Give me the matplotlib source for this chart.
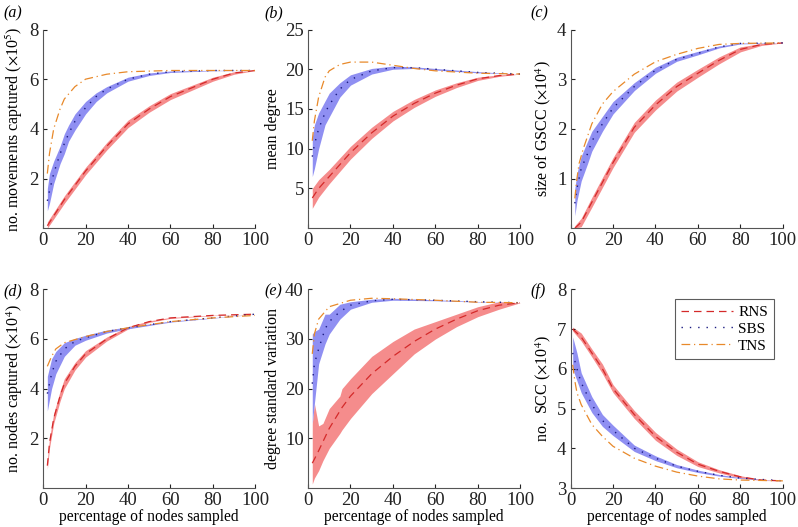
import numpy as np
import matplotlib
matplotlib.use('Agg')
import matplotlib.pyplot as plt

plt.rcParams['font.family'] = ['Liberation Serif', 'DejaVu Serif']
plt.rcParams['mathtext.fontset'] = 'stix'

# ---- (a) movements captured (x10^5)
a_rx = [2, 10, 20, 30, 40, 50, 60, 70, 80, 90, 100]
a_r = [0.1, 1.15, 2.3, 3.3, 4.2, 4.8, 5.3, 5.65, 6.0, 6.25, 6.35]
a_rlo = [0.0, 1.0, 2.15, 3.15, 4.05, 4.67, 5.18, 5.55, 5.92, 6.2, 6.35]
a_rhi = [0.25, 1.3, 2.45, 3.45, 4.35, 4.93, 5.42, 5.75, 6.08, 6.3, 6.35]
a_sx = [2, 3, 5, 8, 10, 12, 15, 20, 25, 30, 40, 50, 60, 80, 100]
a_s = [1.1, 1.5, 2.2, 3.0, 3.4, 3.8, 4.3, 4.85, 5.3, 5.6, 6.0, 6.2, 6.3, 6.35, 6.35]
a_slo = [0.7, 1.0, 1.8, 2.6, 3.0, 3.5, 3.95, 4.6, 5.1, 5.45, 5.92, 6.15, 6.27, 6.34, 6.35]
a_shi = [1.6, 2.2, 2.7, 3.3, 3.8, 4.15, 4.6, 5.1, 5.45, 5.7, 6.08, 6.25, 6.33, 6.36, 6.35]
a_tx = [2, 3, 5, 8, 10, 15, 20, 30, 40, 60, 100]
a_t = [2.2, 3.0, 4.0, 4.8, 5.2, 5.7, 6.0, 6.2, 6.3, 6.35, 6.35]

# ---- (b) mean degree
b_rx = [2, 5, 10, 20, 30, 40, 50, 60, 70, 80, 90, 100]
b_r = [3.8, 5.0, 6.5, 9.5, 12.0, 14.1, 15.7, 17.0, 18.0, 18.8, 19.2, 19.4]
b_rlo = [2.5, 3.9, 5.6, 8.7, 11.3, 13.5, 15.2, 16.6, 17.7, 18.6, 19.1, 19.4]
b_rhi = [5.0, 6.1, 7.4, 10.3, 12.7, 14.7, 16.2, 17.4, 18.3, 19.0, 19.3, 19.4]
b_sx = [2, 3, 5, 8, 10, 15, 20, 30, 40, 50, 60, 80, 100]
b_s = [9.0, 10.5, 12.5, 14.5, 15.5, 17.5, 18.7, 19.8, 20.2, 20.2, 20.0, 19.6, 19.4]
b_slo = [6.5, 7.5, 10.0, 13.0, 14.0, 16.5, 18.0, 19.4, 20.0, 20.1, 19.9, 19.55, 19.4]
b_shi = [11.5, 13.0, 14.5, 16.0, 17.0, 18.3, 19.3, 20.1, 20.4, 20.3, 20.1, 19.7, 19.4]
b_tx = [2, 3, 5, 8, 10, 15, 20, 30, 40, 50, 60, 80, 100]
b_t = [11.0, 13.5, 16.5, 19.0, 19.8, 20.6, 20.9, 20.9, 20.5, 20.1, 19.8, 19.5, 19.4]

# ---- (c) size of GSCC (x10^4)
c_rx = [2, 5, 10, 15, 20, 30, 40, 50, 60, 70, 80, 90, 100]
c_r = [0.0, 0.12, 0.52, 0.92, 1.32, 2.03, 2.48, 2.85, 3.12, 3.38, 3.6, 3.7, 3.73]
c_rlo = [0.0, 0.03, 0.42, 0.82, 1.22, 1.93, 2.38, 2.76, 3.04, 3.31, 3.55, 3.68, 3.73]
c_rhi = [0.05, 0.2, 0.62, 1.02, 1.42, 2.13, 2.58, 2.94, 3.2, 3.45, 3.65, 3.72, 3.73]
c_sx = [2, 3, 5, 8, 10, 15, 20, 30, 40, 50, 60, 70, 80, 100]
c_s = [0.5, 0.8, 1.2, 1.5, 1.75, 2.1, 2.42, 2.85, 3.18, 3.4, 3.52, 3.65, 3.72, 3.73]
c_slo = [0.25, 0.55, 0.95, 1.3, 1.55, 1.95, 2.3, 2.77, 3.12, 3.36, 3.49, 3.63, 3.71, 3.73]
c_shi = [0.8, 1.1, 1.45, 1.75, 1.95, 2.25, 2.55, 2.93, 3.24, 3.44, 3.56, 3.67, 3.73, 3.73]
c_tx = [2, 3, 4, 6, 10, 15, 20, 30, 40, 50, 60, 70, 80, 100]
c_t = [0.6, 1.0, 1.3, 1.6, 2.1, 2.5, 2.75, 3.1, 3.35, 3.5, 3.62, 3.7, 3.72, 3.73]

# ---- (d) nodes captured (x10^4)
d_rx = [2, 3, 5, 8, 10, 15, 20, 30, 40, 50, 60, 80, 100]
d_r = [0.9, 1.8, 2.8, 3.7, 4.2, 4.9, 5.4, 6.0, 6.45, 6.7, 6.85, 6.95, 7.0]
d_rlo = [0.75, 1.6, 2.6, 3.5, 4.0, 4.75, 5.27, 5.92, 6.4, 6.67, 6.83, 6.94, 7.0]
d_rhi = [1.1, 2.0, 3.0, 3.9, 4.4, 5.05, 5.53, 6.08, 6.5, 6.73, 6.87, 6.96, 7.0]
d_sx = [2, 4, 6, 10, 15, 20, 30, 40, 60, 80, 100]
d_s = [3.8, 4.6, 5.1, 5.6, 5.9, 6.05, 6.3, 6.45, 6.7, 6.85, 7.0]
d_slo = [3.1, 4.0, 4.6, 5.3, 5.75, 5.95, 6.24, 6.41, 6.68, 6.84, 7.0]
d_shi = [4.5, 5.2, 5.5, 5.85, 6.02, 6.15, 6.36, 6.49, 6.72, 6.86, 7.0]
d_tx = [2, 4, 6, 10, 20, 30, 40, 60, 80, 100]
d_t = [4.9, 5.3, 5.6, 5.85, 6.1, 6.3, 6.45, 6.7, 6.85, 6.95]

# ---- (e) degree standard variation
e_rx = [2, 3, 5, 7, 10, 15, 16, 20, 30, 40, 50, 60, 70, 80, 90, 100]
e_r = [5.0, 5.8, 7.5, 9.3, 12.0, 15.5, 16.2, 18.5, 23.0, 26.5, 29.5, 32.0, 34.0, 35.7, 36.8, 37.3]
e_rlo = [0.8, 2.0, 3.5, 5.5, 8.0, 11.0, 11.7, 14.0, 19.0, 23.0, 27.0, 30.0, 32.5, 34.5, 36.0, 37.3]
e_rhi = [13.0, 17.0, 12.5, 13.0, 16.0, 18.5, 20.0, 22.0, 26.5, 29.5, 32.0, 33.5, 35.0, 36.5, 37.5, 37.3]
e_sx = [2, 3, 5, 8, 10, 15, 20, 30, 40, 60, 80, 100]
e_s = [21.0, 25.0, 28.0, 32.0, 33.5, 35.5, 36.8, 37.7, 38.0, 37.8, 37.5, 37.3]
e_slo = [13.0, 17.0, 25.0, 29.0, 31.0, 34.0, 36.0, 37.4, 37.8, 37.7, 37.45, 37.3]
e_shi = [31.0, 31.5, 32.0, 35.0, 35.0, 37.0, 37.5, 38.0, 38.2, 37.9, 37.55, 37.3]
e_tx = [2, 3, 5, 10, 20, 30, 40, 60, 80, 100]
e_t = [27.0, 31.0, 34.0, 36.5, 37.8, 38.2, 38.1, 37.8, 37.4, 37.3]

# ---- (f) number of SCC (x10^4)
f_rx = [1, 5, 10, 15, 20, 30, 40, 50, 60, 70, 80, 90, 100]
f_r = [7.0, 6.8, 6.4, 6.0, 5.5, 4.85, 4.3, 3.9, 3.6, 3.42, 3.28, 3.2, 3.18]
f_rlo = [6.95, 6.7, 6.3, 5.88, 5.4, 4.75, 4.2, 3.82, 3.54, 3.38, 3.25, 3.19, 3.18]
f_rhi = [7.05, 6.9, 6.5, 6.12, 5.6, 4.95, 4.4, 3.98, 3.66, 3.46, 3.31, 3.21, 3.18]
f_sx = [1, 3, 5, 10, 15, 20, 30, 40, 50, 60, 70, 80, 100]
f_s = [6.4, 6.0, 5.65, 5.1, 4.7, 4.45, 4.0, 3.75, 3.55, 3.42, 3.32, 3.25, 3.18]
f_slo = [6.0, 5.7, 5.4, 4.9, 4.55, 4.32, 3.92, 3.69, 3.51, 3.39, 3.3, 3.24, 3.18]
f_shi = [6.8, 6.4, 5.9, 5.3, 4.85, 4.58, 4.08, 3.81, 3.59, 3.45, 3.34, 3.26, 3.18]
f_tx = [1, 2, 3, 5, 10, 15, 20, 30, 40, 50, 60, 70, 80, 100]
f_t = [6.1, 5.7, 5.4, 5.1, 4.6, 4.3, 4.05, 3.75, 3.55, 3.4, 3.3, 3.23, 3.2, 3.18]

panels = [
    ('(a)', r'no. movements captured ($\times$10$^5$)', (0, 8), [2, 4, 6, 8],
     (a_rx, a_r, a_rlo, a_rhi), (a_sx, a_s, a_slo, a_shi), (a_tx, a_t)),
    ('(b)', 'mean degree', (0, 25), [5, 10, 15, 20, 25],
     (b_rx, b_r, b_rlo, b_rhi), (b_sx, b_s, b_slo, b_shi), (b_tx, b_t)),
    ('(c)', r'size of GSCC ($\times$10$^4$)', (0, 4), [1, 2, 3, 4],
     (c_rx, c_r, c_rlo, c_rhi), (c_sx, c_s, c_slo, c_shi), (c_tx, c_t)),
    ('(d)', r'no. nodes captured ($\times$10$^4$)', (0, 8), [2, 4, 6, 8],
     (d_rx, d_r, d_rlo, d_rhi), (d_sx, d_s, d_slo, d_shi), (d_tx, d_t)),
    ('(e)', 'degree standard variation', (0, 40), [10, 20, 30, 40],
     (e_rx, e_r, e_rlo, e_rhi), (e_sx, e_s, e_slo, e_shi), (e_tx, e_t)),
    ('(f)', r'no.  SCC ($\times$10$^4$)', (3, 8), [3, 4, 5, 6, 7, 8],
     (f_rx, f_r, f_rlo, f_rhi), (f_sx, f_s, f_slo, f_shi), (f_tx, f_t)),
]

red_fill = '#f58c8c'
blue_fill = '#8f8ff2'
red_line = '#d42a2a'
blue_line = '#1a1a80'
orange_line = '#e8892a'

fig = plt.figure(figsize=(7.98, 5.27), dpi=100)
lefts = [0.054, 0.386, 0.715]
bottoms = [0.567, 0.074]
w, h = 0.266, 0.377
tag_x = [0.004, 0.331, 0.665]

for i, (tag, ylab, ylim, yt, rns, sbs, tns) in enumerate(panels):
    ax = fig.add_axes([lefts[i % 3], bottoms[i // 3], w, h])
    ax.fill_between(rns[0], rns[2], rns[3], color=red_fill, lw=0)
    ax.fill_between(sbs[0], sbs[2], sbs[3], color=blue_fill, lw=0)
    ax.plot(rns[0], rns[1], color=red_line, ls=(0, (6, 4)), lw=0.9, label='RNS')
    ax.plot(sbs[0], sbs[1], color=blue_line, ls=(0, (1, 5)), lw=1.0, label='SBS')
    ax.plot(tns[0], tns[1], color=orange_line, ls=(0, (7, 3, 1, 3)), lw=0.9, label='TNS')
    ax.set_xlim(0, 100)
    ax.set_ylim(*ylim)
    ax.set_xticks([0, 20, 40, 60, 80, 100])
    ax.set_yticks(yt)
    ax.tick_params(direction='in', length=3, labelsize=13.5, colors='#222222', pad=3)
    for s in ['top', 'right']:
        ax.spines[s].set_visible(False)
    for s in ['left', 'bottom']:
        ax.spines[s].set_color('#555555')
    ax.set_ylabel(ylab, fontsize=11.5, labelpad=3)
    if i >= 3:
        ax.set_xlabel('percentage of nodes sampled', fontsize=11.2, labelpad=0)
    if i < 3:
        fig.text(tag_x[i], 0.975, tag, fontsize=11.5, style='italic', va='center')
    else:
        fig.text(tag_x[i % 3], bottoms[1] + h - 0.004, tag, fontsize=11.5, style='italic', va='center')
    if i == 5:
        leg = ax.legend(loc='upper right', fontsize=11, frameon=True, fancybox=False,
                        edgecolor='#333333', handlelength=3.4, handletextpad=0.35,
                        borderpad=0.4, labelspacing=0.2, borderaxespad=0,
                        bbox_to_anchor=(0.958, 0.95))
        leg.get_frame().set_linewidth(0.8)

fig.savefig('out.png', dpi=100)
